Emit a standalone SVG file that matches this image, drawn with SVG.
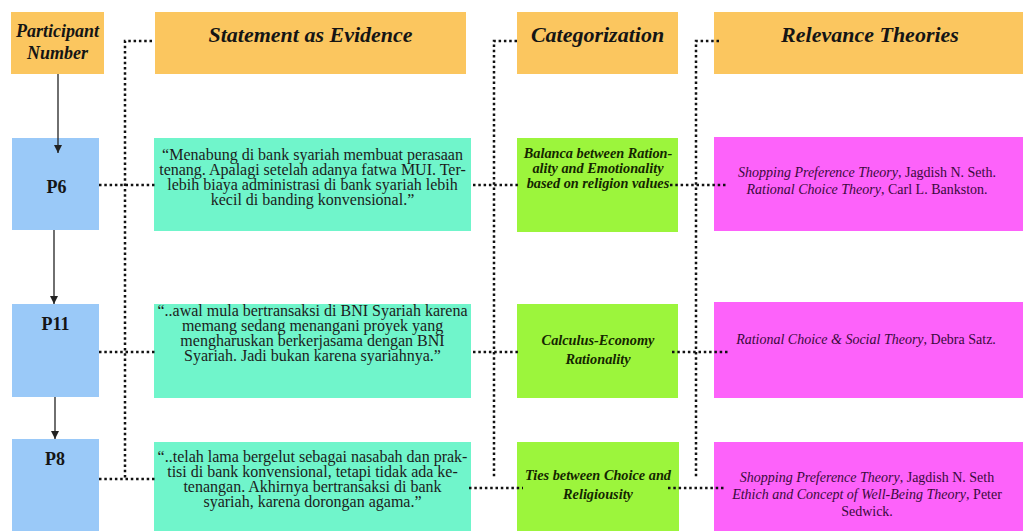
<svg xmlns="http://www.w3.org/2000/svg" width="1023" height="531" viewBox="0 0 1023 531">
  <style>
    .hdr { fill: #FBC65F; }
    .pbox { fill: #9AC9F8; }
    .stmt { fill: #70F5CB; }
    .cat { fill: #9CF53C; }
    .theo { fill: #FD62FA; }
    .htxt { font-family: "Liberation Serif", serif; font-weight: bold; font-style: italic; font-size: 22px; fill: #151515; text-anchor: middle; }
    .ptxt { font-family: "Liberation Serif", serif; font-weight: bold; font-size: 18px; fill: #151515; text-anchor: middle; }
    .stxt { font-family: "Liberation Serif", serif; font-size: 16px; fill: #1c1c1c; text-anchor: middle; }
    .ctxt { font-family: "Liberation Serif", serif; font-weight: bold; font-style: italic; font-size: 14.3px; fill: #142600; text-anchor: middle; }
    .ttxt { font-family: "Liberation Serif", serif; font-size: 14px; fill: #3a0a3c; text-anchor: middle; }
    .it { font-style: italic; }
    .dot { fill: none; stroke: #111; stroke-width: 2.5; stroke-dasharray: 2.5 2.8; }
    .solid { fill: none; stroke: #222; stroke-width: 1.3; }
  </style>
  <defs>
    <marker id="arrow" viewBox="0 0 10 10" refX="10" refY="5" markerWidth="8" markerHeight="8" markerUnits="userSpaceOnUse" orient="auto">
      <path d="M0,0 L10,5 L0,10 Z" fill="#222"/>
    </marker>
  </defs>

  <!-- column headers -->
  <g id="hdr-participant">
    <rect class="hdr" x="11" y="12" width="93" height="62"/>
    <text class="htxt" style="font-size:18px" x="57.5" y="37">Participant</text>
    <text class="htxt" style="font-size:18px" x="57.5" y="59">Number</text>
  </g>
  <g id="hdr-statement">
    <rect class="hdr" x="155" y="12" width="311" height="62"/>
    <text class="htxt" x="310.5" y="42">Statement as Evidence</text>
  </g>
  <g id="hdr-category">
    <rect class="hdr" x="517" y="12" width="161" height="62"/>
    <text class="htxt" x="597.5" y="42">Categorization</text>
  </g>
  <g id="hdr-theories">
    <rect class="hdr" x="714" y="12" width="309" height="62"/>
    <text class="htxt" x="870" y="42">Relevance Theories</text>
  </g>

  <!-- participants -->
  <g id="p6">
    <rect class="pbox" x="12" y="138" width="87" height="92"/>
    <text class="ptxt" x="56.5" y="193">P6</text>
  </g>
  <g id="p11">
    <rect class="pbox" x="12" y="304" width="87" height="93"/>
    <text class="ptxt" x="55.5" y="330">P11</text>
  </g>
  <g id="p8">
    <rect class="pbox" x="12" y="439" width="87" height="92"/>
    <text class="ptxt" x="55" y="465">P8</text>
  </g>

  <!-- statements -->
  <g id="stmt-p6">
    <rect class="stmt" x="154" y="138" width="317" height="93"/>
    <text class="stxt" x="312.5" y="160">“Menabung di bank syariah membuat perasaan</text>
    <text class="stxt" x="312.5" y="175">tenang. Apalagi setelah adanya fatwa MUI. Ter-</text>
    <text class="stxt" x="312.5" y="190">lebih biaya administrasi di bank syariah lebih</text>
    <text class="stxt" x="312.5" y="205">kecil di banding konvensional.”</text>
  </g>
  <g id="stmt-p11">
    <rect class="stmt" x="154" y="304" width="317" height="94"/>
    <text class="stxt" x="312.5" y="316">“..awal mula bertransaksi di BNI Syariah karena</text>
    <text class="stxt" x="312.5" y="331">memang sedang menangani proyek yang</text>
    <text class="stxt" x="312.5" y="346">mengharuskan berkerjasama dengan BNI</text>
    <text class="stxt" x="312.5" y="361">Syariah. Jadi bukan karena syariahnya.”</text>
  </g>
  <g id="stmt-p8">
    <rect class="stmt" x="154" y="442" width="317" height="89"/>
    <text class="stxt" x="312.5" y="462">“..telah lama bergelut sebagai nasabah dan prak-</text>
    <text class="stxt" x="312.5" y="477">tisi di bank konvensional, tetapi tidak ada ke-</text>
    <text class="stxt" x="312.5" y="492">tenangan. Akhirnya bertransaksi di bank</text>
    <text class="stxt" x="312.5" y="507">syariah, karena dorongan agama.”</text>
  </g>

  <!-- categories -->
  <g id="cat-p6">
    <rect class="cat" x="517" y="138" width="161" height="94"/>
    <text class="ctxt" x="598" y="158">Balanca between Ration-</text>
    <text class="ctxt" x="598" y="173">ality and Emotionality</text>
    <text class="ctxt" x="598" y="188">based on religion values</text>
  </g>
  <g id="cat-p11">
    <rect class="cat" x="517" y="304" width="161" height="94"/>
    <text class="ctxt" x="598" y="345">Calculus-Economy</text>
    <text class="ctxt" x="598" y="364">Rationality</text>
  </g>
  <g id="cat-p8">
    <rect class="cat" x="517" y="442" width="162" height="89"/>
    <text class="ctxt" x="598" y="480">Ties between Choice and</text>
    <text class="ctxt" x="598" y="499">Religiousity</text>
  </g>

  <!-- theories -->
  <g id="theo-p6">
    <rect class="theo" x="714" y="137" width="309" height="94"/>
    <text class="ttxt" x="867" y="177"><tspan class="it">Shopping Preference Theory</tspan>, Jagdish N. Seth.</text>
    <text class="ttxt" x="867" y="194"><tspan class="it">Rational Choice Theory</tspan>, Carl L. Bankston.</text>
  </g>
  <g id="theo-p11">
    <rect class="theo" x="714" y="302" width="309" height="96"/>
    <text class="ttxt" x="866" y="344"><tspan class="it">Rational Choice &amp; Social Theory</tspan>, Debra Satz.</text>
  </g>
  <g id="theo-p8">
    <rect class="theo" x="714" y="442" width="309" height="89"/>
    <text class="ttxt" x="867" y="482"><tspan class="it">Shopping Preference Theory</tspan>, Jagdish N. Seth</text>
    <text class="ttxt" x="867" y="499"><tspan class="it">Ethich and Concept of Well-Being Theory</tspan>,  Peter</text>
    <text class="ttxt" x="867" y="516">Sedwick.</text>
  </g>

  <!-- connectors -->
  <g id="connectors">
    <!-- participant sequence -->
    <line class="solid" x1="58" y1="74" x2="58" y2="153" marker-end="url(#arrow)"/>
    <line class="solid" x1="54" y1="230" x2="54" y2="304" marker-end="url(#arrow)"/>
    <line class="solid" x1="55" y1="397" x2="55" y2="439" marker-end="url(#arrow)"/>

    <!-- participant to statement bus -->
    <path class="dot" d="M152,41 H125 V478"/>
    <line class="dot" x1="99" y1="185" x2="155" y2="185"/>
    <line class="dot" x1="99" y1="352" x2="155" y2="352"/>
    <line class="dot" x1="99" y1="479" x2="155" y2="479"/>

    <!-- statement to category bus -->
    <path class="dot" d="M517,41 H494 V478"/>
    <line class="dot" x1="473" y1="185" x2="518" y2="185"/>
    <line class="dot" x1="473" y1="352" x2="519" y2="352"/>
    <line class="dot" x1="469" y1="488" x2="523" y2="488"/>

    <!-- category to theory bus -->
    <path class="dot" d="M719,41 H696 V477"/>
    <line class="dot" x1="670" y1="185" x2="727" y2="185"/>
    <line class="dot" x1="672" y1="352" x2="730" y2="352"/>
    <line class="dot" x1="668" y1="488" x2="726" y2="488"/>
  </g>
</svg>
